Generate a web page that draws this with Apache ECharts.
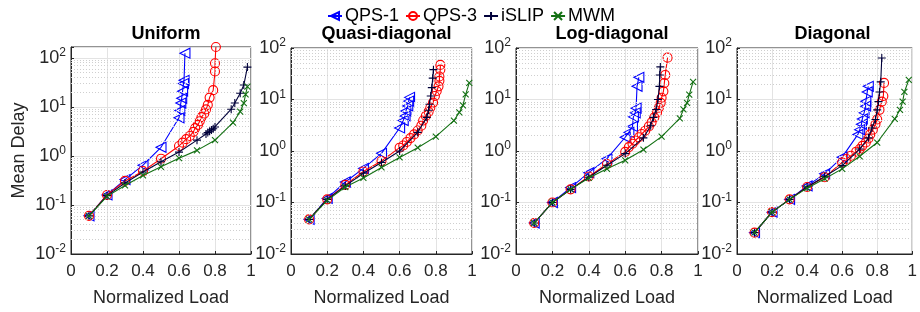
<!DOCTYPE html>
<html>
<head>
<meta charset="utf-8">
<script src="https://cdn.jsdelivr.net/npm/echarts@6/dist/echarts.min.js"></script>
<style>
  html, body { margin: 0; padding: 0; background: #fff; }
  #chart { width: 920px; height: 312px; }
</style>
</head>
<body>
<div id="chart"></div>
<script>
// panel titles and series names
const panelTitles = ['Uniform', 'Quasi-diagonal', 'Log-diagonal', 'Diagonal']
const seriesNames = ['QPS-1', 'QPS-3', 'iSLIP', 'MWM']
const xTicks = [0, 0.2, 0.4, 0.6, 0.8, 1]
const yMaxByPanel = [167, 100, 100, 100]

// [normalized load, mean delay]
const uniformQps1 = [[0.1, 0.06], [0.2, 0.16], [0.3, 0.33], [0.4, 0.65], [0.5, 1.5], [0.6, 6.0], [0.605, 8.5], [0.61, 12], [0.615, 15], [0.62, 21], [0.625, 30], [0.628, 35], [0.633, 125]]
const uniformQps3 = [[0.1, 0.06], [0.2, 0.16], [0.3, 0.31], [0.4, 0.49], [0.5, 0.88], [0.6, 1.6], [0.62, 1.87], [0.64, 2.2], [0.66, 2.55], [0.68, 3.1], [0.69, 3.7], [0.705, 4.3], [0.715, 5.1], [0.725, 6.2], [0.74, 7.3], [0.75, 8.9], [0.76, 11], [0.77, 15.5], [0.79, 22], [0.8, 53], [0.8, 78], [0.805, 167]]
const uniformIslip = [[0.1, 0.06], [0.2, 0.155], [0.3, 0.28], [0.4, 0.47], [0.5, 0.76], [0.6, 1.2], [0.7, 2.1], [0.75, 2.8], [0.76, 3.0], [0.77, 3.2], [0.78, 3.4], [0.79, 3.6], [0.8, 3.9], [0.89, 9], [0.91, 12], [0.94, 19], [0.96, 28], [0.98, 65]]
const uniformMwm = [[0.1, 0.06], [0.2, 0.15], [0.3, 0.25], [0.4, 0.4], [0.5, 0.6], [0.6, 0.9], [0.7, 1.3], [0.8, 2.1], [0.9, 4.8], [0.94, 8], [0.96, 12], [0.97, 18], [0.98, 26]]

const quasiQps1 = [[0.1, 0.047], [0.2, 0.12], [0.3, 0.25], [0.4, 0.46], [0.5, 0.9], [0.6, 2.8], [0.62, 3.9], [0.63, 4.8], [0.635, 6], [0.645, 7.5], [0.65, 9.3], [0.655, 11]]
const quasiQps3 = [[0.1, 0.047], [0.2, 0.115], [0.3, 0.22], [0.4, 0.4], [0.5, 0.64], [0.6, 1.16], [0.62, 1.28], [0.64, 1.5], [0.66, 1.78], [0.68, 2.1], [0.7, 2.5], [0.72, 3.1], [0.73, 3.9], [0.745, 4.8], [0.76, 5.8], [0.77, 7.0], [0.785, 8.7], [0.795, 11.7], [0.805, 14.6], [0.815, 18], [0.82, 23], [0.82, 28], [0.825, 38], [0.825, 47]]
const quasiIslip = [[0.1, 0.047], [0.2, 0.115], [0.3, 0.21], [0.4, 0.37], [0.5, 0.6], [0.6, 1.0], [0.7, 2.3], [0.75, 4.5], [0.76, 6.2], [0.765, 8.1], [0.772, 11.7], [0.778, 17], [0.783, 26], [0.787, 38]]
const quasiMwm = [[0.1, 0.047], [0.2, 0.11], [0.3, 0.2], [0.4, 0.3], [0.5, 0.48], [0.6, 0.75], [0.7, 1.16], [0.8, 1.9], [0.9, 3.9], [0.93, 5.6], [0.95, 7.7], [0.965, 12.6], [0.985, 21]]

const logQps1 = [[0.1, 0.04], [0.2, 0.1], [0.3, 0.195], [0.4, 0.38], [0.5, 0.71], [0.6, 1.85], [0.62, 2.3], [0.64, 3.0], [0.645, 4.6], [0.655, 5.5], [0.66, 6.8], [0.665, 18], [0.675, 27]]
const logQps3 = [[0.1, 0.04], [0.2, 0.1], [0.3, 0.18], [0.4, 0.32], [0.5, 0.56], [0.6, 0.96], [0.62, 1.19], [0.64, 1.38], [0.655, 1.6], [0.675, 1.85], [0.69, 2.14], [0.71, 2.48], [0.73, 3.0], [0.745, 3.6], [0.76, 4.5], [0.775, 5.6], [0.785, 6.9], [0.795, 8.6], [0.8, 10.8], [0.81, 14.4], [0.815, 20.8], [0.82, 30], [0.833, 65]]
const logIslip = [[0.1, 0.04], [0.2, 0.1], [0.3, 0.18], [0.4, 0.31], [0.5, 0.53], [0.6, 0.89], [0.7, 1.8], [0.74, 3.1], [0.755, 4.5], [0.77, 6.4], [0.78, 10], [0.788, 18], [0.79, 30], [0.793, 43]]
const logMwm = [[0.1, 0.04], [0.2, 0.1], [0.3, 0.18], [0.4, 0.3], [0.5, 0.45], [0.6, 0.66], [0.7, 1.06], [0.8, 1.9], [0.9, 4.3], [0.92, 6.4], [0.94, 8.6], [0.952, 12.4], [0.973, 22]]

const diagQps1 = [[0.1, 0.026], [0.2, 0.065], [0.3, 0.115], [0.4, 0.21], [0.5, 0.36], [0.6, 0.76], [0.69, 2.1], [0.7, 2.6], [0.71, 3.3], [0.715, 4.2], [0.725, 5.5], [0.734, 7.4], [0.735, 9.2], [0.743, 14], [0.749, 18]]
const diagQps3 = [[0.1, 0.026], [0.2, 0.065], [0.3, 0.115], [0.4, 0.2], [0.5, 0.31], [0.6, 0.6], [0.625, 0.7], [0.65, 0.81], [0.68, 0.97], [0.7, 1.09], [0.715, 1.26], [0.735, 1.46], [0.75, 1.75], [0.76, 2.1], [0.775, 2.6], [0.79, 3.3], [0.8, 4.1], [0.813, 6.3], [0.826, 9.1], [0.835, 11.7], [0.839, 21]]
const diagIslip = [[0.1, 0.026], [0.2, 0.065], [0.3, 0.115], [0.4, 0.2], [0.5, 0.32], [0.6, 0.52], [0.7, 1.09], [0.75, 1.8], [0.77, 2.8], [0.79, 4.1], [0.8, 6.3], [0.807, 9.1], [0.813, 14], [0.82, 22], [0.826, 64]]
const diagMwm = [[0.1, 0.026], [0.2, 0.065], [0.3, 0.115], [0.4, 0.19], [0.5, 0.29], [0.6, 0.45], [0.7, 0.79], [0.8, 1.46], [0.9, 4.2], [0.93, 6.3], [0.945, 9.1], [0.955, 14], [0.98, 24]]

const panelData = [
  [uniformQps1, uniformQps3, uniformIslip, uniformMwm],
  [quasiQps1, quasiQps3, quasiIslip, quasiMwm],
  [logQps1, logQps3, logIslip, logMwm],
  [diagQps1, diagQps3, diagIslip, diagMwm]
]

const FONT = '"Liberation Sans", Arial, Helvetica, sans-serif'
const TXT = '#262626'
const panels = [
  { left: 71, width: 180 },
  { left: 291, width: 181 },
  { left: 516, width: 182 },
  { left: 737, width: 181 }
]
const styles = [
  { color: '#0000ff', symbol: 'triangle', rotate: 90, size: 10 },
  { color: '#ff0000', symbol: 'circle', rotate: 0, size: 9 },
  { color: '#00003a', symbol: 'path://M5,0L5,10M0,5L10,5', rotate: 0, size: 8 },
  { color: '#137013', symbol: 'path://M0,0L10,10M0,10L10,0', rotate: 0, size: 6 }
]

// minor log grid values 2..9 x 10^k
const minorGrid = []
for (let k = -2; k <= 2; k++) for (let m = 2; m <= 9; m++) minorGrid.push(m * Math.pow(10, k))

const logLabel = v => {
  const lg = Math.log10(v)
  const e = Math.round(lg)
  if (Math.abs(lg - e) > 1e-6) return ''
  return '{b|10}{s|' + e + '}'
}

const chart = echarts.init(document.getElementById('chart'), null, { renderer: 'canvas' })

const grid = panels.map((p, i) => ({
  left: p.left, width: p.width, top: i === 0 ? 47 : 48, bottom: 56,
  show: true, borderColor: TXT, borderWidth: 1, backgroundColor: 'transparent'
}))

const xAxis = panels.map((p, i) => ({
  type: 'value', gridIndex: i, min: 0, max: 1, interval: 0.2,
  name: 'Normalized Load', nameLocation: 'middle', nameGap: 35,
  nameTextStyle: { fontFamily: FONT, fontSize: 18, color: TXT },
  axisLine: { show: true, lineStyle: { color: TXT } },
  axisTick: { show: true, inside: true, length: 3, lineStyle: { color: TXT } },
  axisLabel: { fontFamily: FONT, fontSize: 17, color: TXT, margin: 9, formatter: v => String(+v.toFixed(1)) },
  splitLine: { show: true, lineStyle: { color: '#e3e3e3', width: 1 } }
}))

const yAxis = panels.map((p, i) => ({
  type: 'log', gridIndex: i, min: 0.01, max: yMaxByPanel[i], logBase: 10,
  name: i === 0 ? 'Mean Delay' : '', nameLocation: 'middle', nameGap: 43,
  nameTextStyle: { fontFamily: FONT, fontSize: 18, color: TXT },
  axisLine: { show: true, lineStyle: { color: TXT } },
  axisTick: { show: true, inside: true, length: 3, lineStyle: { color: TXT } },
  axisLabel: {
    fontFamily: FONT, color: TXT, margin: 5, formatter: logLabel,
    rich: {
      b: { fontFamily: FONT, fontSize: 18, color: TXT, lineHeight: 22 },
      s: { fontFamily: FONT, fontSize: 12, color: TXT, verticalAlign: 'top', lineHeight: 12 }
    }
  },
  splitLine: { show: true, lineStyle: { color: '#e3e3e3', width: 1 } }
}))

const series = []
panelData.forEach((set, pi) => {
  // dotted minor grid lines
  series.push({
    type: 'line', xAxisIndex: pi, yAxisIndex: pi, data: [], silent: true, z: 1,
    markLine: {
      silent: true, symbol: ['none', 'none'], label: { show: false }, animation: false,
      lineStyle: { color: '#cfcfcf', type: [1, 2], width: 1 },
      data: minorGrid.filter(v => v < yMaxByPanel[pi]).map(v => ({ yAxis: v }))
    }
  })
  set.forEach((pts, si) => {
    const st = styles[si]
    series.push({
      name: seriesNames[si], type: 'line', xAxisIndex: pi, yAxisIndex: pi,
      data: pts, symbol: st.symbol, symbolSize: st.size, symbolRotate: st.rotate,
      showSymbol: true, showAllSymbol: true, z: 3 + si,
      lineStyle: { color: st.color, width: 1.1 },
      itemStyle: { color: 'transparent', borderColor: st.color, borderWidth: 1.1 },
      emphasis: { disabled: true },
      animation: false
    })
  })
})

const option = {
  backgroundColor: '#fff',
  animation: false,
  title: panelTitles.map((t, i) => ({
    text: t, left: panels[i].left + panels[i].width / 2, top: 20, textAlign: 'center',
    textStyle: { fontFamily: FONT, fontSize: 18, fontWeight: 'bold', color: '#000' }
  })),
  legend: {
    data: seriesNames, left: 322, top: 2, itemWidth: 14, itemHeight: 10, itemGap: 6,
    textStyle: { fontFamily: FONT, fontSize: 18, color: '#000', padding: [0, 0, 0, -2] }
  },
  grid, xAxis, yAxis, series
}

chart.setOption(option)
</script>
</body>
</html>
